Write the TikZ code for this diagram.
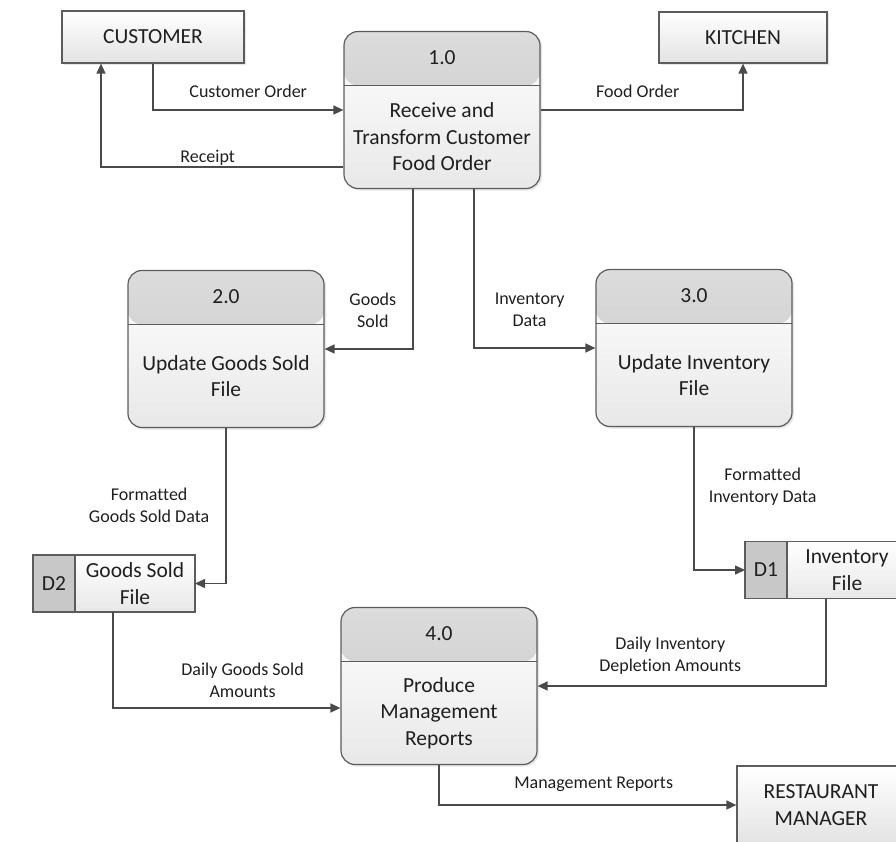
\documentclass[tikz,border=0pt]{standalone}
\usepackage{fontspec}
\setmainfont{Carlito}[RawFeature={-liga;-clig;-calt}]
\usetikzlibrary{positioning,arrows.meta,shadows}

\definecolor{linegray}{HTML}{4A4A4A}
\definecolor{boxgray}{HTML}{5C5C5C}
\definecolor{headtop}{HTML}{DCDCDC}
\definecolor{headbot}{HTML}{C6C6C6}
\definecolor{keygray}{HTML}{C8C8C8}

\begin{document}
\begin{tikzpicture}[x=1pt, y=-1pt,
	every node/.style={font=\fontsize{21.5}{26.5}\selectfont, text=black!88},
	flow/.style={draw=linegray, line width=1.5pt, -{Triangle[length=10pt,width=9pt]}},
	lbl/.style={font=\fontsize{18}{22}\selectfont, align=center, inner sep=1pt},
	entity/.style={draw=boxgray, line width=1.2pt,
				   top color=white, bottom color=black!11,
				   align=center, inner sep=0pt,
				   drop shadow={opacity=0.2, shadow xshift=2pt, shadow yshift=-2pt}
	},
	proc/.style={draw=boxgray, line width=1.2pt, rounded corners=14pt,
				 minimum width=196pt, minimum height=157pt,
				 top color=white, bottom color=black!9,
				 drop shadow={opacity=0.2, shadow xshift=2pt, shadow yshift=-2pt},
				 path picture={
				 	\shade[top color=headtop, bottom color=headbot]
				 		(path picture bounding box.north west) rectangle
				 		([yshift=-54pt]path picture bounding box.north east);
				 	\draw[boxgray, line width=1.2pt]
				 		([yshift=-54pt]path picture bounding box.north west) --
				 		([yshift=-54pt]path picture bounding box.north east);
				 }
	},
	pnum/.style={anchor=center, yshift=-27pt},
	ptext/.style={anchor=center, yshift=-27pt, align=center},
	dkey/.style={draw=boxgray, line width=1.2pt, fill=keygray,
				 minimum width=42pt, minimum height=57pt,
				 inner sep=0pt, outer sep=0pt
	},
	dfile/.style={draw=boxgray, line width=1.2pt,
				  top color=white, bottom color=black!9,
				  minimum width=120pt, minimum height=57pt,
				  align=center, inner sep=0pt, outer sep=0pt
	}
]
	\clip (0,0) rectangle (896,841);

	% external entities
	\node[entity, minimum width=182pt, minimum height=52pt] (cust) at (153,37) {CUSTOMER};
	\node[entity, minimum width=168pt, minimum height=51pt] (kitchen) at (743,37.5) {KITCHEN};
	\node[entity, minimum width=168pt, minimum height=78pt] (mgr) at (821,805) {RESTAURANT\\MANAGER};

	% processes
	\node[proc, label={[pnum]north:1.0},
		  label={[ptext]center:Receive and\\Transform Customer\\Food Order}] (p1) at (442,110) {};
	\node[proc, label={[pnum]north:2.0},
		  label={[ptext]center:Update Goods Sold\\File}] (p2) at (226,349) {};
	\node[proc, label={[pnum]north:3.0},
		  label={[ptext]center:Update Inventory\\File}] (p3) at (694,348) {};
	\node[proc, label={[pnum]north:4.0},
		  label={[ptext]center:Produce\\Management\\Reports}] (p4) at (439,686) {};

	% data stores
	\node[dkey] (d2k) at (54,583.5) {D2};
	\node[dfile, right=0pt of d2k] (d2) {Goods Sold\\File};
	\node[dkey] (d1k) at (766,570) {D1};
	\node[dfile, right=0pt of d1k] (d1) {Inventory\\File};

	% data flows
	\draw[flow] (cust.south) |- node[lbl, above=11pt, pos=0.75] {Customer Order} (p1.west);
	\draw[flow] ([yshift=-57pt]p1.west) -| node[lbl, above=0pt, pos=0.28] {Receipt} ([xshift=-52pt]cust.south);
	\draw[flow] (p1.east) -| node[lbl, above=11pt, pos=0.24] {Food Order} (kitchen.south);
	\draw[flow] ([xshift=-29pt]p1.south) |- node[lbl, left=15pt, pos=0.38] {Goods\\Sold} (p2.east);
	\draw[flow] ([xshift=32pt]p1.south) |- node[lbl, right=19pt, pos=0.38] {Inventory\\Data} (p3.west);
	\draw[flow] (p2.south) |- node[lbl, left=15pt, pos=0.25] {Formatted\\Goods Sold Data} (d2.east);
	\draw[flow] (p3.south) |- node[lbl, right=13pt, pos=0.21] {Formatted\\Inventory Data} (d1k.west);
	\draw[flow] ([xshift=-22pt]d2.south) |- node[lbl, above=9pt, pos=0.785] {Daily Goods Sold\\Amounts} ([yshift=-22pt]p4.west);
	\draw[flow] ([xshift=-21pt]d1.south) |- node[lbl, above=10pt, pos=0.77] {Daily Inventory\\Depletion Amounts} (p4.east);
	\draw[flow] (p4.south) |- node[lbl, above=12pt, pos=0.76] {Management Reports} (mgr.west);
\end{tikzpicture}
\end{document}
